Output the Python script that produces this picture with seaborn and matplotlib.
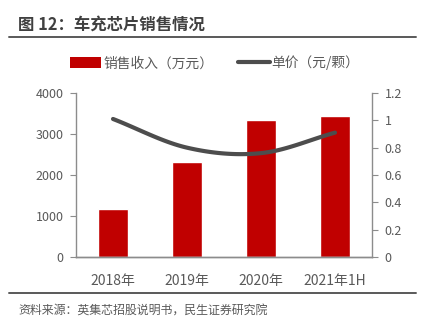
import numpy as np
import pandas as pd
import matplotlib
matplotlib.use("Agg")
import matplotlib.pyplot as plt
from matplotlib.lines import Line2D
from matplotlib.patches import Patch
import seaborn as sns

# Data
categories = ["2018年", "2019年", "2020年", "2021年1H"]
revenue = [1180, 2320, 3340, 3450]          # 销售收入（万元）
unit_price = [1.01, 0.80, 0.76, 0.91]       # 单价（元/颗）
left_ticks = [0, 1000, 2000, 3000, 4000]
right_ticks = [0, 0.2, 0.4, 0.6, 0.8, 1.0, 1.2]
right_tick_labels = ["0", "0.2", "0.4", "0.6", "0.8", "1", "1.2"]

sns.set_theme(style="white")
plt.rcParams["font.family"] = ["Noto Sans CJK SC", "DejaVu Sans"]

RED = "#C00000"
LINE = "#4D4D4D"
AXIS = "#8C8C8C"
TXT = "#595959"

fig = plt.figure(figsize=(4.29, 3.33), dpi=100)
ax = fig.add_axes([76 / 429, 1 - 257 / 333, (372 - 76) / 429, (257 - 93) / 333])

df = pd.DataFrame({"cat": categories, "rev": revenue})
sns.barplot(data=df, x="cat", y="rev", color=RED, saturation=1, width=0.41, ax=ax)
ax.set_xlabel("")
ax.set_ylabel("")
ax.set_ylim(0, 4000)
ax.set_xlim(-0.5, 3.5)
ax.set_yticks(left_ticks)
ax.set_yticklabels([str(v) for v in left_ticks])

# Smoothed price curve (Catmull-Rom through the four price points)
ax2 = ax.twinx()
pts = np.array(unit_price, dtype=float)
xs = np.arange(len(pts), dtype=float)
ext = np.concatenate([[2 * pts[0] - pts[1]], pts, [2 * pts[-1] - pts[-2]]])
sx, sy = [], []
for i in range(len(pts) - 1):
    p0, p1, p2, p3 = ext[i], ext[i + 1], ext[i + 2], ext[i + 3]
    t = np.linspace(0, 1, 40)
    y = 0.5 * ((2 * p1) + (-p0 + p2) * t + (2 * p0 - 5 * p1 + 4 * p2 - p3) * t ** 2
               + (-p0 + 3 * p1 - 3 * p2 + p3) * t ** 3)
    sx.append(xs[i] + t)
    sy.append(y)
ax2.plot(np.concatenate(sx), np.concatenate(sy), color=LINE, lw=3, solid_capstyle="round")
ax2.set_ylim(0, 1.2)
ax2.set_yticks(right_ticks)
ax2.set_yticklabels(right_tick_labels)
ax2.set_xlim(-0.5, 3.5)

for a in (ax, ax2):
    a.spines["top"].set_visible(False)
    for s in ("left", "right", "bottom"):
        a.spines[s].set_color(AXIS)
        a.spines[s].set_linewidth(1.0)
ax.spines["right"].set_visible(False)
ax2.spines["left"].set_visible(False)

ax.tick_params(axis="y", left=True, length=4, width=0.8, color=AXIS, labelsize=9,
               labelcolor=TXT, pad=5)
ax.tick_params(axis="x", bottom=False, labelsize=10, labelcolor=TXT, pad=6)
ax2.tick_params(axis="y", right=True, length=4, width=0.8, color=AXIS, labelsize=9,
                labelcolor=TXT, pad=5)

# Legend
handles = [Patch(facecolor=RED, edgecolor="none"),
           Line2D([0], [0], color=LINE, lw=3)]
fig.legend(handles, ["销售收入（万元）", "单价（元/颗）"], loc="center",
           bbox_to_anchor=(0.5, 1 - 63 / 333), ncol=2, frameon=False,
           fontsize=9.9, handlelength=2.3, handleheight=0.8, handletextpad=0.15,
           columnspacing=1.8, labelcolor=TXT)

# Title, rules and source
fig.text(18 / 429, 1 - 25 / 333, "图 12：车充芯片销售情况", fontsize=11.8,
         fontweight="bold", color="#404040", va="center", ha="left")
fig.add_artist(Line2D([9 / 429, 416 / 429], [1 - 37 / 333] * 2, color="#595959", lw=1.4))
fig.add_artist(Line2D([9 / 429, 416 / 429], [1 - 293 / 333] * 2, color="#595959", lw=1.4))
fig.text(18 / 429, 1 - 310 / 333, "资料来源：英集芯招股说明书，民生证券研究院", fontsize=8.6,
         color=TXT, va="center", ha="left")

fig.savefig("out.png", dpi=100)
